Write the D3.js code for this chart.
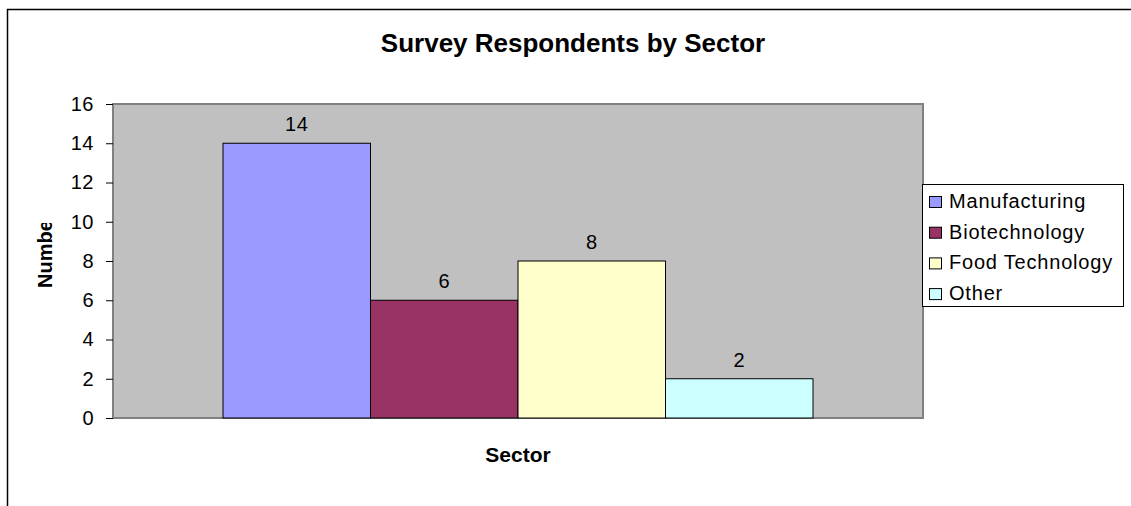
<!DOCTYPE html>
<html>
<head>
<meta charset="utf-8">
<script src="https://cdn.jsdelivr.net/npm/d3@7"></script>
<style>
  html, body { margin: 0; padding: 0; background: #fff; }
  svg { display: block; font-family: "Liberation Sans", Arial, sans-serif; }
</style>
</head>
<body>
<svg id="chart" width="1131" height="506"></svg>
<script>
// Respondent counts per sector
const sectors = ["Manufacturing", "Biotechnology", "Food Technology", "Other"];
const counts = [14, 6, 8, 2];
const sectorColors = ["#9999FF", "#993366", "#FFFFCC", "#CCFFFF"];
const yTicks = [0, 2, 4, 6, 8, 10, 12, 14, 16];

const svg = d3.select("#chart");

// Outer chart frame (runs off the right and bottom edges)
svg.append("rect")
  .attr("x", 7.5).attr("y", 9.5)
  .attr("width", 1200).attr("height", 600)
  .attr("fill", "#fff").attr("stroke", "#000").attr("stroke-width", 1.5);

const plot = { left: 113, right: 923, top: 104, bottom: 418 };

const y = d3.scaleLinear().domain([0, 16]).range([plot.bottom, plot.top]);

// One category group; series placed side by side inside it
const group = d3.scaleBand().domain(["Sector"]).range([plot.left, plot.right]).paddingInner(0).paddingOuter(0);
const gStart = group("Sector") + group.bandwidth() * 0.1358;
const gEnd = group("Sector") + group.bandwidth() * (1 - 0.1358);
const x = d3.scaleBand().domain(sectors).range([gStart, gEnd]).padding(0);

// Plot area background
svg.append("rect")
  .attr("x", plot.left).attr("y", plot.top)
  .attr("width", plot.right - plot.left).attr("height", plot.bottom - plot.top)
  .attr("fill", "#C0C0C0").attr("stroke", "#808080").attr("stroke-width", 2);

// Bars
svg.append("g").selectAll("rect")
  .data(sectors)
  .join("rect")
  .attr("x", d => x(d))
  .attr("y", (d, i) => y(counts[i]))
  .attr("width", x.bandwidth())
  .attr("height", (d, i) => y(0) - y(counts[i]))
  .attr("fill", (d, i) => sectorColors[i])
  .attr("stroke", "#000").attr("stroke-width", 1);

// Value labels
svg.append("g").selectAll("text")
  .data(sectors)
  .join("text")
  .attr("x", d => x(d) + x.bandwidth() / 2)
  .attr("y", (d, i) => y(counts[i]) - 12)
  .attr("text-anchor", "middle")
  .attr("font-size", 20)
  .attr("letter-spacing", 0.5)
  .attr("fill", "#000")
  .text((d, i) => counts[i]);

// Y axis
const yAxis = d3.axisLeft(y).tickValues(yTicks).tickSize(7).tickPadding(12).tickFormat(d3.format("d"));
const ya = svg.append("g").attr("transform", `translate(${plot.left},0)`).call(yAxis);
ya.select(".domain").attr("stroke", "#808080").attr("stroke-width", 2).attr("d", `M0,${plot.top}V${plot.bottom}`);
ya.selectAll(".tick line").attr("stroke", "#000");
ya.selectAll(".tick text")
  .attr("font-size", 20).attr("letter-spacing", 0.5)
  .attr("font-family", "Liberation Sans, Arial, sans-serif").attr("fill", "#000");

// Title
svg.append("text")
  .attr("x", 573).attr("y", 52)
  .attr("text-anchor", "middle")
  .attr("font-size", 26).attr("font-weight", "bold")
  .text("Survey Respondents by Sector");

// X axis title
svg.append("text")
  .attr("x", (plot.left + plot.right) / 2).attr("y", 462)
  .attr("text-anchor", "middle")
  .attr("font-size", 21).attr("font-weight", "bold")
  .text("Sector");

// Y axis title, cut off at the top of its slot
svg.append("clipPath").attr("id", "ylabClip")
  .append("rect").attr("x", 0).attr("y", 223).attr("width", 100).attr("height", 100);
svg.append("g")
  .attr("clip-path", "url(#ylabClip)")
  .append("text")
  .attr("transform", "translate(52,288) rotate(-90)")
  .attr("text-anchor", "start")
  .attr("font-size", 20).attr("font-weight", "bold")
  .text("Number");

// Legend
const legend = svg.append("g").attr("transform", "translate(922,184)");
legend.append("rect")
  .attr("x", 0.5).attr("y", 0.5).attr("width", 201).attr("height", 122)
  .attr("fill", "#fff").attr("stroke", "#000").attr("stroke-width", 1);
const items = legend.selectAll("g.item")
  .data(sectors)
  .join("g")
  .attr("class", "item")
  .attr("transform", (d, i) => `translate(0,${24 + i * 30.7})`);
items.append("rect")
  .attr("x", 7.5).attr("y", -11.5).attr("width", 12).attr("height", 11)
  .attr("fill", (d, i) => sectorColors[i])
  .attr("stroke", "#000").attr("stroke-width", 1);
items.append("text")
  .attr("x", 27).attr("y", 0)
  .attr("font-size", 20)
  .attr("letter-spacing", 0.8)
  .text(d => d);
</script>
</body>
</html>
